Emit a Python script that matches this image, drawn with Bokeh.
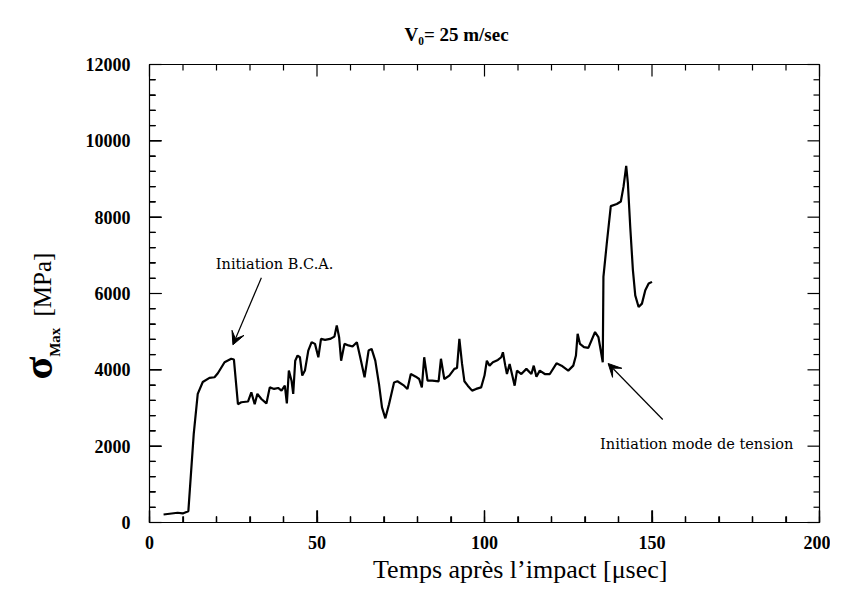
import math
from bokeh.plotting import figure
from bokeh.models import (LinearAxis, SingleIntervalTicker, Range1d, Label, Arrow,
                          VeeHead, ColumnDataSource, Title)
from bokeh.embed import file_html
from bokeh.resources import INLINE

# ---- data ----
time_us = [4.2, 8.4, 9.9, 11.6, 13.2, 14.4, 15.9, 17.9, 19.4, 20.4, 22.4, 24.4, 25.2,
           26.4, 27.4, 29.4, 30.4, 31.4, 32.2, 33.4, 34.9, 35.9, 37.2, 38.4, 39.4,
           40.4, 41.0, 41.6, 42.4, 42.9, 43.5, 44.2, 44.9, 45.6, 46.4, 47.4, 48.4,
           49.4, 50.4, 51.2, 52.4, 53.9, 55.2, 55.9, 56.6, 57.2, 58.2, 59.4, 60.6,
           61.9, 62.9, 64.2, 65.4, 66.3, 67.4, 68.5, 69.4, 70.4, 71.5, 73.0, 74.0,
           76.0, 77.0, 78.0, 79.5, 80.5, 81.3, 82.0, 83.0, 84.4, 86.3, 87.0, 88.0,
           89.5, 91.0, 91.8, 92.5, 93.3, 94.0, 95.0, 96.3, 97.5, 99.0, 100.0, 100.7,
           101.5, 102.5, 104.0, 105.0, 105.5, 106.2, 106.7, 107.5, 108.3, 109.0,
           109.7, 111.0, 112.5, 114.0, 114.7, 115.5, 116.5, 118.0, 119.5, 121.5,
           123.0, 125.0, 126.5, 127.3, 127.8, 128.5, 129.7, 131.0, 133.0, 134.0,
           134.7, 135.3, 135.5, 136.5, 137.7, 139.5, 140.7, 141.5, 142.3, 142.8,
           143.5, 144.3, 145.0, 146.0, 147.0, 148.0, 149.0, 150.0]
sigma_max = [210, 255, 237, 297, 2315, 3370, 3680, 3790, 3805, 3910, 4200, 4290, 4270,
             3100, 3150, 3170, 3410, 3100, 3370, 3235, 3120, 3540, 3500, 3525, 3455,
             3585, 3120, 3980, 3715, 3370, 4240, 4375, 4330, 3850, 3980, 4505, 4725,
             4680, 4330, 4810, 4785, 4810, 4870, 5165, 4855, 4240, 4680, 4640, 4610,
             4725, 4330, 3805, 4505, 4550, 4240, 3630, 3015, 2730, 3100, 3670, 3700,
             3585, 3500, 3890, 3820, 3760, 3540, 4330, 3715, 3715, 3700, 4290, 3760,
             3850, 4025, 4050, 4810, 4155, 3700, 3585, 3455, 3500, 3540, 3850, 4240,
             4110, 4200, 4260, 4330, 4460, 4110, 3890, 4155, 3850, 3585,
             3980, 3890, 4025, 3890, 4110, 3820, 3980, 3890, 3890, 4170,
             4110, 3980, 4110, 4375, 4945, 4680, 4595, 4575, 4990, 4860,
             4505, 4200, 6435, 7310, 8290, 8345, 8410, 8800, 9345, 8890,
             7750, 6610, 5950, 5645, 5735, 6085, 6260, 6305]

x_range = (0, 200)
y_range = (0, 12000)
x_major_ticks = [0, 50, 100, 150, 200]
y_major_ticks = [0, 2000, 4000, 6000, 8000, 10000, 12000]
x_minor_step = 10
y_minor_step = 400

title_text = "V\u2080= 25 m/sec"
x_title = "Temps après l\u2019impact  [\u03bcsec]"
y_title_sym = "\u03c3"
y_title_sub = "Max"
y_title_unit = "[MPa]"
note_bca = "Initiation B.C.A."
note_tension = "Initiation mode de tension"

SERIF = "Liberation Serif"
NB = "\u00a0"

W, H = 830, 588
BL, BR, BT, BB = 149, 11, 64, 66
FW, FH = W - BL - BR, H - BT - BB

p = figure(width=W, height=H, output_backend="svg", toolbar_location=None,
           x_range=Range1d(*x_range), y_range=Range1d(*y_range),
           min_border_left=BL, min_border_right=BR, min_border_top=BT,
           min_border_bottom=BB, x_axis_location=None, y_axis_location=None,
           title=title_text)
p.grid.visible = False
p.outline_line_color = "black"
p.outline_line_width = 1.2
p.background_fill_color = None
p.border_fill_color = None

p.title.align = "left"
p.title.vertical_align = "top"
p.title.offset = 255
p.title.standoff = 35
p.title.text_font = SERIF
p.title.text_font_style = "bold"
p.title.text_font_size = "19px"
p.title.text_color = "black"

def style_axis(ax):
    ax.major_tick_in = 12
    ax.major_tick_out = 0
    ax.minor_tick_in = 6
    ax.minor_tick_out = 0
    ax.axis_line_color = "black"
    ax.major_tick_line_color = "black"
    ax.minor_tick_line_color = "black"
    ax.major_tick_line_width = 1.2
    ax.minor_tick_line_width = 1.2
    ax.major_label_text_font = SERIF
    ax.major_label_text_font_style = "bold"
    ax.major_label_text_font_size = "18px"
    ax.major_label_text_color = "black"

xb = LinearAxis(ticker=SingleIntervalTicker(interval=50, num_minor_ticks=5))
style_axis(xb)
xb.major_label_standoff = 13
xb.axis_label = NB * 12 + x_title
xb.axis_label_text_font = SERIF
xb.axis_label_text_font_style = "normal"
xb.axis_label_text_font_size = "26px"
xb.axis_label_standoff = 3
xb.axis_label_text_color = "black"
p.add_layout(xb, "below")

yl = LinearAxis(ticker=SingleIntervalTicker(interval=2000, num_minor_ticks=5))
style_axis(yl)
yl.major_label_standoff = 19
# the subscript of the y title, shifted down along the axis
yl.axis_label = y_title_sub + NB * 26
yl.axis_label_text_font = SERIF
yl.axis_label_text_font_style = "bold"
yl.axis_label_text_font_size = "15px"
yl.axis_label_standoff = 20
yl.axis_label_text_color = "black"
p.add_layout(yl, "left")

# y title: unit and symbol as side titles overlapping toward the axis
t_unit = Title(text=y_title_unit, align="left", offset=206, vertical_align="bottom",
               text_font=SERIF, text_font_style="normal", text_font_size="25px",
               text_color="black")
t_sym = Title(text=y_title_sym, align="left", offset=143, vertical_align="bottom",
              text_font=SERIF, text_font_style="bold", text_font_size="42px",
              text_color="black")
for t, s in ((t_unit, -24), (t_sym, -44)):
    try:
        t.standoff = s
    except Exception:
        t.standoff = 0
p.add_layout(t_unit, "left")
p.add_layout(t_sym, "left")

# inward tick marks on all four sides, at the axis tick values
xpp = (x_range[1] - x_range[0]) / FW
ypp = (y_range[1] - y_range[0]) / FH
x_minor = [v for v in range(x_range[0], x_range[1] + 1, x_minor_step) if v not in x_major_ticks]
y_minor = [v for v in range(y_range[0], y_range[1] + 1, y_minor_step) if v not in y_major_ticks]
MAJ, MIN = 12, 6
xs, ys = [], []
lb = dict(x0=[], y0=[], x1=[], y1=[])
for vals, ln in ((x_major_ticks, MAJ), (x_minor, MIN)):
    for v in vals:
        xs += [[v, v], [v, v]]
        ys += [[y_range[0], y_range[0] + ln * ypp], [y_range[1], y_range[1] - ln * ypp]]
        lb["x0"].append(v); lb["x1"].append(v)
        lb["y0"].append(y_range[0]); lb["y1"].append(y_range[0] + ln * ypp)
for vals, ln in ((y_major_ticks, MAJ), (y_minor, MIN)):
    for v in vals:
        ys += [[v, v], [v, v]]
        xs += [[x_range[0], x_range[0] + ln * xpp], [x_range[1], x_range[1] - ln * xpp]]
        lb["y0"].append(v); lb["y1"].append(v)
        lb["x0"].append(x_range[0]); lb["x1"].append(x_range[0] + ln * xpp)
tick_r = p.multi_line(xs=xs, ys=ys, line_color="black", line_width=1.2)
tick_r.level = "overlay"
# the same left/bottom tick marks again as head-less arrow annotations
p.add_layout(Arrow(source=ColumnDataSource(lb), x_start="x0", y_start="y0",
                   x_end="x1", y_end="y1", end=None, line_color="black",
                   line_width=1.2))

src = ColumnDataSource(dict(t=time_us, s=sigma_max))
p.line("t", "s", source=src, line_color="black", line_width=2.2)

# annotations
p.add_layout(Label(x=19.8, y=6786, text=note_bca, text_font="DejaVu Serif",
                   text_font_size="14.5px", text_align="left", text_baseline="middle",
                   text_color="black"))
p.add_layout(Label(x=134.5, y=2044, text=note_tension, text_font="DejaVu Serif",
                   text_font_size="14.5px", text_align="left", text_baseline="middle",
                   text_color="black"))
p.add_layout(Arrow(x_start=33.4, y_start=6415, x_end=24.9, y_end=4655, line_width=1.2,
                   end=VeeHead(size=13, fill_color="black", line_color="black")))
p.add_layout(Arrow(x_start=153.2, y_start=2699, x_end=136.9, y_end=4166, line_width=1.2,
                   end=VeeHead(size=13, fill_color="black", line_color="black")))

open("out.html", "w").write(file_html(p, INLINE))
